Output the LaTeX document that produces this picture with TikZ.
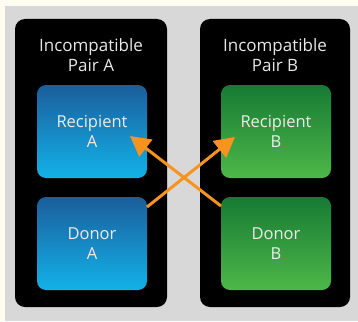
\documentclass[tikz,border=0pt]{standalone}
\usepackage{fontspec}
\setsansfont{Open Sans}
\usetikzlibrary{arrows.meta}

\definecolor{paper}{HTML}{FDFDF0}
\definecolor{panelgray}{HTML}{D8D8D8}
\definecolor{kidneyorange}{HTML}{F7931E}
\definecolor{bluetop}{HTML}{1B5E9C}
\definecolor{bluebot}{HTML}{12B2E8}
\definecolor{greentop}{HTML}{177A34}
\definecolor{greenbot}{HTML}{4DB848}

\tikzset{
  pair/.style={fill=black, rounded corners=10pt},
  person/.style={rounded corners=9pt, minimum width=110pt, minimum height=93pt,
    inner sep=0pt, align=center, text=white!85!gray,
    font=\sffamily\fontsize{16.5}{20}\selectfont},
  blueperson/.style={person, top color=bluetop, bottom color=bluebot},
  greenperson/.style={person, top color=greentop, bottom color=greenbot},
  title/.style={align=center, text=white!82!gray,
    font=\sffamily\fontsize{17}{20}\selectfont},
  swap/.style={draw=kidneyorange, line width=3pt,
    -{Triangle[length=20pt, width=21pt]}},
}

\begin{document}
\begin{tikzpicture}[x=1pt, y=-1pt]
  % Page and grey backdrop.
  \fill[paper] (0,0) rectangle (358,321);
  \useasboundingbox (0,0) rectangle (358,321);
  \fill[panelgray] (5,6) rectangle (358,321);
  % The two incompatible pairs.
  \fill[pair] (15,19) rectangle (167,307);
  \fill[pair] (200,19) rectangle (350,307);
  \node[title] (titleA) at (91,55) {Incompatible\\Pair A};
  \node[title] (titleB) at (275,55) {Incompatible\\Pair B};
  % Recipients on top, donors below.
  \node[blueperson] (recA) at (92,131.5) {Recipient\\A};
  \node[blueperson] (donA) at (92,243.5) {Donor\\A};
  \node[greenperson] (recB) at (276,131.5) {Recipient\\B};
  \node[greenperson] (donB) at (276,243.5) {Donor\\B};
  % Cross-over donation.
  \coordinate (outA) at (147,207);
  \coordinate (outB) at (221,206);
  \coordinate (inA) at (130,136);
  \coordinate (inB) at (235,137);
  \draw[swap] (outA) -- (inB);
  \draw[swap] (outB) -- (inA);
\end{tikzpicture}
\end{document}
